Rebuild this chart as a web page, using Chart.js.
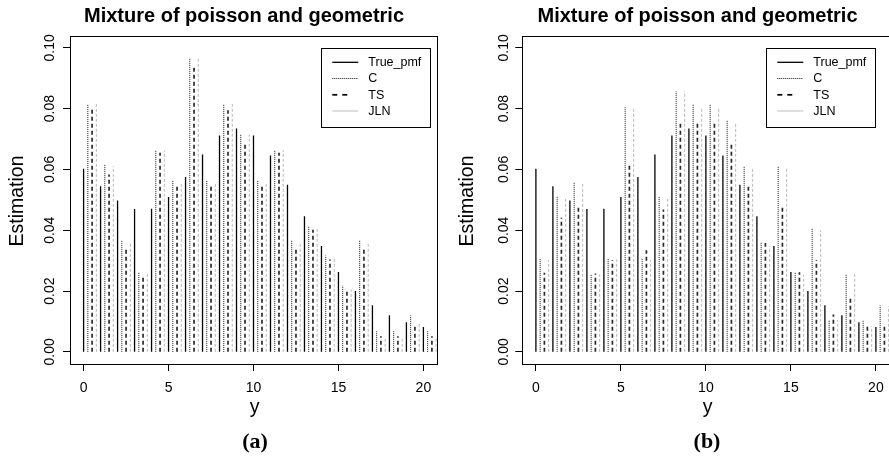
<!DOCTYPE html>
<html>
<head>
<meta charset="utf-8">
<script src="https://cdn.jsdelivr.net/npm/chart.js@4.4.1/dist/chart.umd.min.js"></script>
<style>
  html, body { margin: 0; padding: 0; background: #fff; }
  #wrap { position: relative; width: 889px; height: 459px; overflow: hidden; background: #fff; }
  canvas { position: absolute; top: 0; }
</style>
</head>
<body>
<div id="wrap">
  <canvas id="panelA" width="444" height="459" style="left:0"></canvas>
  <canvas id="panelB" width="460" height="459" style="left:445px"></canvas>
</div>
<script>
// y = 0..20
const yCounts = [0, 1, 2, 3, 4, 5, 6, 7, 8, 9, 10, 11, 12, 13, 14, 15, 16, 17, 18, 19, 20];

// true pmf (same in both panels)
const trueProb = [0.0602, 0.0545, 0.0498, 0.0470, 0.0471, 0.0509, 0.0575, 0.0649, 0.0712, 0.0735, 0.0712,
  0.0646, 0.0550, 0.0446, 0.0348, 0.0263, 0.0200, 0.0153, 0.0120, 0.0097, 0.0082];

// panel (a)
const cA = [0.0814, 0.0616, 0.0367, 0.0263, 0.0663, 0.0565, 0.0964, 0.0565, 0.0814, 0.0715, 0.0565,
  0.0663, 0.0367, 0.0413, 0.0317, 0.0218, 0.0367, 0.0068, 0.0068, 0.0120, 0.0068];
const tsA = [0.0797, 0.0583, 0.0337, 0.0254, 0.0655, 0.0547, 0.0938, 0.0547, 0.0795, 0.0688, 0.0547,
  0.0655, 0.0337, 0.0402, 0.0304, 0.0200, 0.0337, 0.0051, 0.0051, 0.0087, 0.0051];
const jlnA = [0.0821, 0.0611, 0.0361, 0.0258, 0.0663, 0.0558, 0.0964, 0.0558, 0.0821, 0.0715, 0.0558,
  0.0663, 0.0361, 0.0408, 0.0309, 0.0205, 0.0361, 0.0050, 0.0050, 0.0097, 0.0050];

// panel (b)
const cB = [0.0306, 0.0510, 0.0556, 0.0254, 0.0306, 0.0805, 0.0306, 0.0510, 0.0857, 0.0814, 0.0814,
  0.0762, 0.0611, 0.0361, 0.0609, 0.0262, 0.0405, 0.0103, 0.0255, 0.0103, 0.0153];
const tsB = [0.0260, 0.0441, 0.0480, 0.0258, 0.0302, 0.0616, 0.0334, 0.0468, 0.0759, 0.0759, 0.0759,
  0.0690, 0.0543, 0.0358, 0.0477, 0.0262, 0.0302, 0.0123, 0.0180, 0.0087, 0.0087];
const jlnB = [0.0302, 0.0503, 0.0554, 0.0254, 0.0304, 0.0805, 0.0302, 0.0503, 0.0857, 0.0803, 0.0803,
  0.0753, 0.0605, 0.0348, 0.0605, 0.0254, 0.0400, 0.0105, 0.0255, 0.0085, 0.0150];

const xTicks = [0, 5, 10, 15, 20];
const yTicks = [0, 0.02, 0.04, 0.06, 0.08, 0.10];
const seriesNames = ['True_pmf', 'C', 'TS', 'JLN'];
const titleText = 'Mixture of poisson and geometric';

const SANS = '"Liberation Sans", Arial, Helvetica, sans-serif';
const SERIF = '"Liberation Serif", "Times New Roman", serif';

// line look of each series (offset = shift along x like R's type="h" side by side)
const styles = [
  { offset: 0,    color: '#000',    width: 1.3, dash: [],     legDash: [],     legColor: '#000',    legWidth: 1.3, legLen: 26 },
  { offset: 0.25, color: '#111',    width: 1,   dash: [1, 1], legDash: [1, 1], legColor: '#111',    legWidth: 1,   legLen: 26 },
  { offset: 0.5,  color: '#2a2a2a', width: 1.7, dash: [4, 3], legDash: [5, 5], legColor: '#000',    legWidth: 1.7, legLen: 15 },
  { offset: 0.75, color: '#b8b8b8', width: 1,   dash: [3, 2], legDash: [],     legColor: '#c8c8c8', legWidth: 1.2, legLen: 26 }
];

function stems(values, offset) {
  const pts = [];
  values.forEach((v, i) => {
    const x = yCounts[i] + offset;
    pts.push({ x: x, y: 0 }, { x: x, y: v }, { x: x, y: null });
  });
  return pts;
}

const decorations = {
  id: 'decorations',
  afterDatasetsDraw(chart, args, o) {
    const ctx = chart.ctx;
    const a = chart.chartArea;
    const xs = chart.scales.x, ys = chart.scales.y;
    ctx.save();

    // box round the plot region
    ctx.strokeStyle = '#000';
    ctx.lineWidth = 1;
    ctx.setLineDash([]);
    ctx.strokeRect(Math.round(a.left) + 0.5, Math.round(a.top) + 0.5,
      Math.round(a.right - a.left), Math.round(a.bottom - a.top));

    ctx.fillStyle = '#000';

    // title
    ctx.font = 'bold 20px ' + SANS;
    ctx.textAlign = 'center';
    ctx.textBaseline = 'alphabetic';
    ctx.fillText(titleText, o.titleX, 22.3);

    // x tick labels
    ctx.font = '14px ' + SANS;
    xTicks.forEach(t => ctx.fillText(String(t), xs.getPixelForValue(t), 392));

    // y tick labels (rotated, R style)
    yTicks.forEach(t => {
      ctx.save();
      ctx.translate(o.yTickX, ys.getPixelForValue(t));
      ctx.rotate(-Math.PI / 2);
      ctx.fillText(t.toFixed(2), 0, 0);
      ctx.restore();
    });

    // axis labels
    ctx.font = '19.5px ' + SANS;
    ctx.fillText('y', o.xLabX, 413);
    ctx.save();
    ctx.translate(o.yLabX, 201);
    ctx.rotate(-Math.PI / 2);
    ctx.fillText('Estimation', 0, 0);
    ctx.restore();

    // panel letter
    ctx.font = 'bold 22px ' + SERIF;
    ctx.fillText(o.sub, o.subX, 448);

    // legend
    const L = o.legend;
    ctx.fillStyle = '#fff';
    ctx.fillRect(L.left, L.top, L.right - L.left, L.bottom - L.top);
    ctx.strokeStyle = '#000';
    ctx.lineWidth = 1;
    ctx.strokeRect(L.left + 0.5, L.top + 0.5, L.right - L.left, L.bottom - L.top);
    ctx.font = '12.5px ' + SANS;
    ctx.textAlign = 'left';
    ctx.textBaseline = 'middle';
    seriesNames.forEach((name, i) => {
      const s = styles[i];
      const y = L.rowY[i];
      ctx.strokeStyle = s.legColor;
      ctx.lineWidth = s.legWidth;
      ctx.setLineDash(s.legDash);
      ctx.beginPath();
      ctx.moveTo(L.lineX, y);
      ctx.lineTo(L.lineX + s.legLen, y);
      ctx.stroke();
      ctx.fillStyle = '#000';
      ctx.fillText(name, L.textX, y + 0.5);
    });
    ctx.restore();
  }
};

function makePanel(id, c, ts, jln, o) {
  const canvas = document.getElementById(id);
  const series = [trueProb, c, ts, jln];
  return new Chart(canvas.getContext('2d'), {
    type: 'line',
    data: {
      datasets: series.map((vals, i) => ({
        label: seriesNames[i],
        data: stems(vals, styles[i].offset),
        borderColor: styles[i].color,
        borderWidth: styles[i].width,
        borderDash: styles[i].dash,
        pointRadius: 0,
        pointHoverRadius: 0,
        fill: false,
        spanGaps: false,
        tension: 0
      }))
    },
    options: {
      responsive: false,
      animation: false,
      devicePixelRatio: 1,
      layout: { padding: { left: 0, top: 35.7, right: canvas.width - o.plotRight, bottom: 0 } },
      plugins: {
        legend: { display: false },
        tooltip: { enabled: false },
        title: { display: false },
        decorations: o
      },
      scales: {
        x: {
          type: 'linear',
          min: -0.8,
          max: 20.8,
          afterBuildTicks: s => { s.ticks = xTicks.map(v => ({ value: v })); },
          afterFit: s => { s.height = 459 - 364; },
          ticks: { display: false },
          grid: { display: true, drawOnChartArea: false, drawTicks: true, tickLength: 7, color: '#000', lineWidth: 1 },
          border: { display: false }
        },
        y: {
          type: 'linear',
          min: -0.004,
          max: 0.104,
          afterBuildTicks: s => { s.ticks = yTicks.map(v => ({ value: v })); },
          afterFit: s => { s.width = o.plotLeft; },
          ticks: { display: false },
          grid: { display: true, drawOnChartArea: false, drawTicks: true, tickLength: 7, color: '#000', lineWidth: 1 },
          border: { display: false }
        }
      }
    },
    plugins: [decorations]
  });
}

const legendBox = {
  left: 321, top: 48, right: 430, bottom: 127,
  lineX: 332.3, textX: 368.3, rowY: [62.3, 78.5, 94.8, 111]
};

makePanel('panelA', cA, tsA, jlnA, {
  plotLeft: 70, plotRight: 437, titleX: 244, yTickX: 54.2, yLabX: 23, xLabX: 254.5,
  sub: '(a)', subX: 255, legend: legendBox
});
makePanel('panelB', cB, tsB, jlnB, {
  plotLeft: 77.3, plotRight: 444.5, titleX: 252.5, yTickX: 62.7, yLabX: 28.3, xLabX: 262.5,
  sub: '(b)', subX: 262, legend: legendBox
});
</script>
</body>
</html>
